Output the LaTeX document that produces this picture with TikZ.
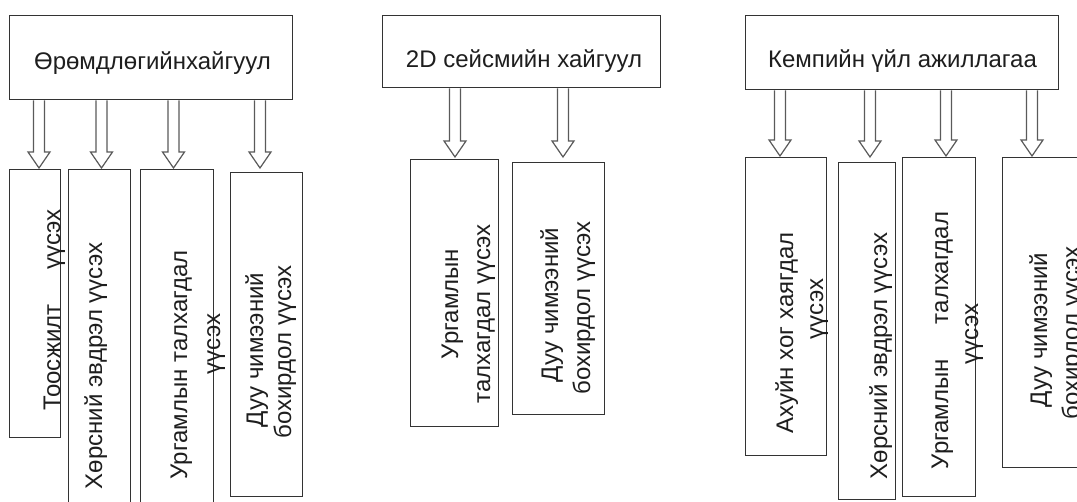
\documentclass[tikz,border=0pt]{standalone}
\usepackage{fontspec}
\setmainfont{Liberation Sans}
\usetikzlibrary{calc}
\definecolor{boxline}{HTML}{333333}
\definecolor{arrline}{HTML}{5A5A5A}
\definecolor{txt}{HTML}{1E1E1E}
\tikzset{
  boxnode/.style={draw=boxline, line width=1.4pt, rectangle, inner sep=0pt, anchor=north west, fill=white},
  vlabel/.style={rotate=90, anchor=base, inner sep=0pt, text=txt, font=\fontsize{24}{29}\selectfont},
  hlabel/.style={anchor=base, inner sep=0pt, text=txt, font=\fontsize{24}{29}\selectfont},
  blockarrow/.style={draw=arrline, line width=1.2pt, fill=white, line join=miter,
    to path={let \p1=(\tikztostart), \p2=(\tikztotarget) in
      (\x1-5.5pt,\y1) -- (\x1-5.5pt,\y2+16pt) -- (\x1-11pt,\y2+16pt) -- (\x1,\y2)
      -- (\x1+11pt,\y2+16pt) -- (\x1+5.5pt,\y2+16pt) -- (\x1+5.5pt,\y1)}}
}
\begin{document}
\begin{tikzpicture}[x=1pt, y=-1pt]
\useasboundingbox (0,0) rectangle (1077,502);
\clip (0,0) rectangle (1077,502);
\fill[white] (0,0) rectangle (1077,502);

% top boxes
\node[boxnode, minimum width=283pt, minimum height=84pt] (t1) at (9,15) {};
\node[hlabel] (t1l) at (152.5,70) {Өрөмдлөгийнхайгуул};
\node[boxnode, minimum width=278pt, minimum height=72pt] (t2) at (382,15) {};
\node[hlabel] (t2l) at (524,68) {2D сейсмийн хайгуул};
\node[boxnode, minimum width=313pt, minimum height=74pt] (t3) at (745,15) {};
\node[hlabel] (t3l) at (902.5,68) {Кемпийн үйл ажиллагаа};

% child boxes, group 1
\node[boxnode, minimum width=51pt, minimum height=268pt] (b1a) at (9,169) {};
\node[boxnode, minimum width=62pt, minimum height=345pt] (b1b) at (68,169) {};
\node[boxnode, minimum width=73pt, minimum height=345pt] (b1c) at (140,169) {};
\node[boxnode, minimum width=72pt, minimum height=324pt] (b1d) at (230,172) {};
% group 2
\node[boxnode, minimum width=88pt, minimum height=267pt] (b2a) at (410,159) {};
\node[boxnode, minimum width=92pt, minimum height=252pt] (b2b) at (512,162) {};
% group 3
\node[boxnode, minimum width=81pt, minimum height=298pt] (b3a) at (745,157) {};
\node[boxnode, minimum width=57pt, minimum height=337pt] (b3b) at (838,162) {};
\node[boxnode, minimum width=73pt, minimum height=339pt] (b3c) at (902,157) {};
\node[boxnode, minimum width=90pt, minimum height=310pt] (b3d) at (1002,157) {};

% arrow tips
\coordinate (e1a) at (39,168);
\coordinate (e1b) at (101.5,168);
\coordinate (e1c) at (173.5,168);
\coordinate (e1d) at (260,168);
\coordinate (e2a) at (455,157);
\coordinate (e2b) at (563,157);
\coordinate (e3a) at (780,156);
\coordinate (e3b) at (870,157);
\coordinate (e3c) at (946,156);
\coordinate (e3d) at (1032,156);

\draw[blockarrow] (t1.south -| e1a) to (e1a);
\draw[blockarrow] (t1.south -| e1b) to (e1b);
\draw[blockarrow] (t1.south -| e1c) to (e1c);
\draw[blockarrow] (t1.south -| e1d) to (e1d);
\draw[blockarrow] (t2.south -| e2a) to (e2a);
\draw[blockarrow] (t2.south -| e2b) to (e2b);
\draw[blockarrow] (t3.south -| e3a) to (e3a);
\draw[blockarrow] (t3.south -| e3b) to (e3b);
\draw[blockarrow] (t3.south -| e3c) to (e3c);
\draw[blockarrow] (t3.south -| e3d) to (e3d);

% vertical labels, group 1
\node[vlabel] (l1a) at (60,310) {Тоосжилт\hspace{35pt}үүсэх};
\node[vlabel] (l1b) at (102,366) {Хөрсний эвдрэл үүсэх};
\node[vlabel] (l1c1) at (187,365) {Ургамлын талхагдал};
\node[vlabel] (l1c2) at (220,344) {үүсэх};
\node[vlabel] (l1d1) at (263,350) {Дуу чимээний};
\node[vlabel] (l1d2) at (291,352) {бохирдол үүсэх};
% group 2
\node[vlabel] (l2a1) at (458,304) {Ургамлын};
\node[vlabel] (l2a2) at (490,314) {талхагдал үүсэх};
\node[vlabel] (l2b1) at (558,305) {Дуу чимээний};
\node[vlabel] (l2b2) at (590,308) {бохирдол үүсэх};
% group 3
\node[vlabel] (l3a1) at (793,333) {Ахуйн хог хаягдал};
\node[vlabel] (l3a2) at (823,309) {үүсэх};
\node[vlabel] (l3b) at (887,356) {Хөрсний эвдрэл үүсэх};
\node[vlabel] (l3c1) at (948,340.5) {Ургамлын\hspace{35pt}талхагдал};
\node[vlabel] (l3c2) at (978,334) {үүсэх};
\node[vlabel] (l3d1) at (1047,330) {Дуу чимээний};
\node[vlabel] (l3d2) at (1079,333) {бохирдол үүсэх};
\end{tikzpicture}
\end{document}
